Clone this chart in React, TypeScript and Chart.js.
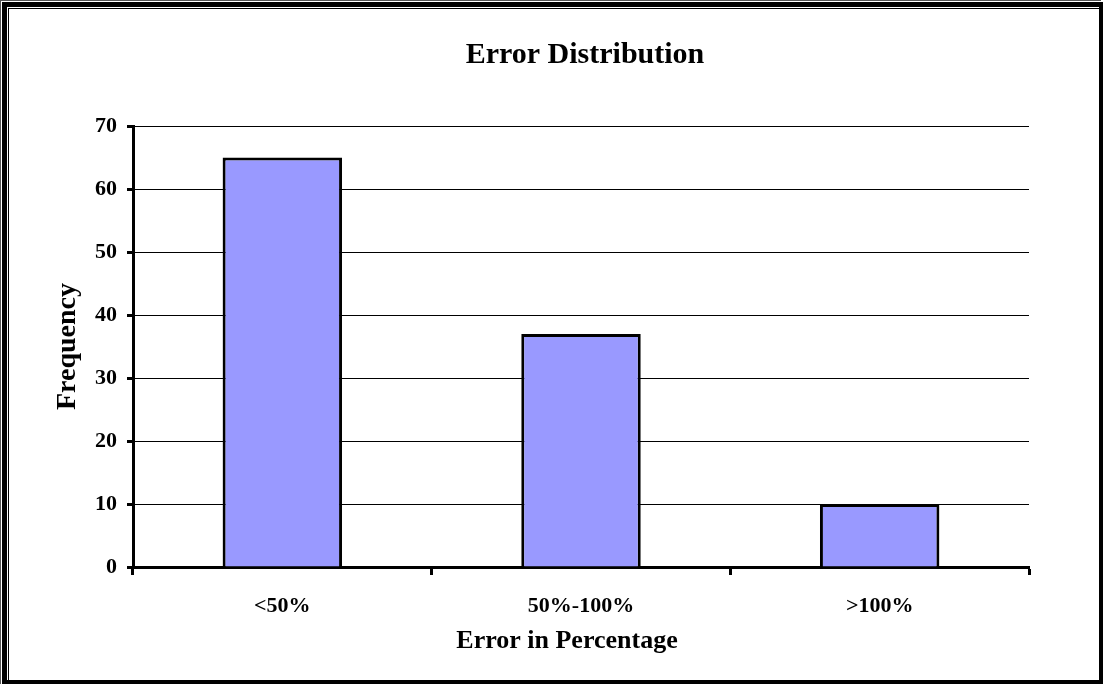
import React, { useEffect, useRef } from "react";
import { Chart, registerables } from "chart.js";

Chart.register(...registerables);

// Frequency of prediction errors per error band
const categories = ["<50%", "50%-100%", ">100%"];
const frequencies = [65, 37, 10];
const yTickValues = [0, 10, 20, 30, 40, 50, 60, 70];

const chartTitle = "Error Distribution";
const xAxisTitle = "Error in Percentage";
const yAxisTitle = "Frequency";

const SERIF = "'Liberation Serif', 'Times New Roman', serif";
const BAR_FILL = "#9999FF";

// White background and the double-edged frame round the whole chart
const framePlugin = {
  id: "frame",
  beforeDraw(chart: any) {
    const { ctx, width, height } = chart;
    ctx.save();
    ctx.fillStyle = "#fff";
    ctx.fillRect(0, 0, width, height);
    ctx.restore();
  },
  afterDraw(chart: any) {
    const { ctx, width, height } = chart;
    ctx.save();
    ctx.fillStyle = "#555";
    ctx.fillRect(0, 0, width - 3, 1);
    ctx.fillRect(0, 0, 1, height - 2);
    ctx.fillStyle = "#000";
    ctx.fillRect(2, 2, width - 3, 5);
    ctx.fillRect(2, 2, 5, height - 4);
    ctx.fillRect(width - 5, 2, 4, height - 4);
    ctx.fillRect(2, height - 6, width - 3, 4);
    ctx.fillRect(8, 8, width - 13, 1);
    ctx.fillRect(8, 8, 1, height - 14);
    ctx.restore();
  },
};

// Chart heading and horizontal axis caption
const captionPlugin = {
  id: "captions",
  afterDraw(chart: any) {
    const { ctx, chartArea } = chart;
    const cx = (chartArea.left + chartArea.right) / 2;
    ctx.save();
    ctx.fillStyle = "#000";
    ctx.textAlign = "center";
    ctx.textBaseline = "alphabetic";
    ctx.font = `bold 30px ${SERIF}`;
    ctx.fillText(chartTitle, cx + 4, 63);
    ctx.font = `bold 26px ${SERIF}`;
    ctx.fillText(xAxisTitle, cx - 14, 648);
    ctx.restore();
  },
};

export default function App() {
  const canvasRef = useRef<HTMLCanvasElement>(null);

  useEffect(() => {
    const tickFont = { family: SERIF, size: 22, weight: "bold" as const };
    const chart = new Chart(canvasRef.current as HTMLCanvasElement, {
      type: "bar",
      data: {
        labels: categories,
        datasets: [
          {
            data: frequencies,
            backgroundColor: BAR_FILL,
            borderColor: "#000",
            borderWidth: 3,
            categoryPercentage: 1,
            barPercentage: 0.4,
          },
        ],
      },
      options: {
        responsive: false,
        animation: false,
        layout: { padding: { top: 126, right: 75, left: 0, bottom: 0 } },
        plugins: {
          legend: { display: false },
          tooltip: { enabled: false },
          title: { display: false },
        },
        scales: {
          x: {
            grid: {
              drawOnChartArea: false,
              drawTicks: true,
              tickLength: 8,
              tickWidth: 3,
              tickColor: "#000",
              offset: true,
            },
            border: { display: true, color: "#000", width: 3 },
            ticks: { color: "#000", font: tickFont, padding: 18, maxRotation: 0 },
            afterFit(scale: any) {
              scale.height = 119;
            },
          },
          y: {
            min: 0,
            max: 70,
            afterBuildTicks(scale: any) {
              scale.ticks = yTickValues.map((value) => ({ value }));
            },
            grid: {
              color: "#000",
              lineWidth: 1,
              tickLength: 6,
              tickWidth: 3,
              tickColor: "#000",
            },
            border: { display: true, color: "#000", width: 3 },
            ticks: { color: "#000", font: tickFont, padding: 10 },
            title: {
              display: true,
              text: yAxisTitle,
              color: "#000",
              font: { family: SERIF, size: 28, weight: "bold" },
              padding: { top: 51, bottom: 0 },
            },
            afterFit(scale: any) {
              scale.width = 133;
            },
          },
        },
      },
      plugins: [framePlugin, captionPlugin],
    });
    return () => chart.destroy();
  }, []);

  return (
    <div style={{ position: "absolute", left: 0, top: 0, width: 1104, height: 686 }}>
      <canvas ref={canvasRef} width={1104} height={686} />
    </div>
  );
}
